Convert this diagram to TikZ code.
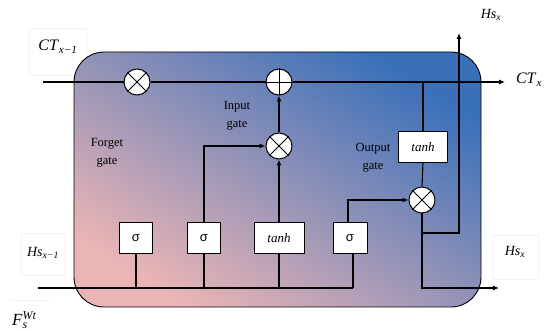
\documentclass[tikz,border=0pt]{standalone}
\usepackage{fontspec}
\setmainfont{Liberation Serif}
\newfontfamily\sigfont{Liberation Sans}
\usetikzlibrary{arrows.meta,calc}

\definecolor{cellpink}{HTML}{EBB5B5}
\definecolor{cellmid}{HTML}{A393B8}
\definecolor{cellblue}{HTML}{3A70BA}

\newcommand{\vname}[2]{\textit{#1}\textsubscript{\textit{#2}}}

\tikzset{
  wire/.style={line width=1.1pt, black},
  arr/.style={wire, -{Latex[length=6pt,width=5pt]}},
  opnode/.style={circle, draw, line width=1pt, fill=white, minimum size=26pt, inner sep=0pt},
  gatebox/.style={draw, line width=0.9pt, fill=white, minimum height=31pt, inner sep=0pt},
  gatelbl/.style={align=center, font=\fontsize{12.5}{18}\selectfont},
  lblbox/.style={draw=black!5, line width=0.4pt},
}

\begin{document}
\begin{tikzpicture}[x=1pt, y=-1pt]
\useasboundingbox (0,0) rectangle (550,331);

% faint frames behind the outer labels
\draw[lblbox] (29,28) rectangle (86,75);
\draw[lblbox] (21,233) rectangle (65,275);
\draw[lblbox] (492,235) rectangle (538,279);
\draw[lblbox] (10,300) -- (50,300);

% cell body with diagonal colour gradient
\shade[shading=axis, bottom color=cellpink, middle color=cellmid, top color=cellblue,
       shading angle=-32, rounded corners=30pt]
  (74,52) rectangle (481,307);
\draw[line width=0.9pt, rounded corners=30pt] (74,52) rectangle (481,307);

% operation nodes
\node[opnode] (fmul) at (137,82) {};
\node[opnode] (add)  at (279,82) {};
\node[opnode] (imul) at (279,146) {};
\node[opnode] (omul) at (422,200) {};

% gate boxes
\node[gatebox, minimum width=33pt] (sig1) at (136,238) {\sigfont\fontsize{13}{13}\selectfont σ};
\node[gatebox, minimum width=33pt] (sig2) at (204,238) {\sigfont\fontsize{13}{13}\selectfont σ};
\node[gatebox, minimum width=50pt] (tanhi) at (279,238) {\fontsize{13}{13}\selectfont\itshape tanh};
\node[gatebox, minimum width=34pt] (sig3) at (350,238) {\sigfont\fontsize{13}{13}\selectfont σ};
\node[gatebox, minimum width=49pt] (tanho) at (423,147) {\fontsize{13}{13}\selectfont\itshape tanh};

% free ends
\coordinate (ctin)  at (43,82);
\coordinate (ctout) at (505,82);
\coordinate (hin)   at (38,288);
\coordinate (hend)  at (353,288);
\coordinate (hsup)  at (459,33);
\coordinate (hsout) at (499,288);

% cell state line
\draw[wire] (ctin) -- (fmul.west);
\draw[wire] (fmul.east) -- (add.west);
\draw[arr] (add.east) -- (ctout);

% symbols inside the operation nodes
\foreach \n in {fmul,imul,omul}{
  \draw[line width=0.9pt] (\n.north east) -- (\n.south west);
  \draw[line width=0.9pt] (\n.north west) -- (\n.south east);
}
\draw[line width=0.9pt] (add.north) -- (add.south);
\draw[line width=0.9pt] (add.west) -- (add.east);

% input line feeding all gates
\draw[wire] (hin) -- (hend);
\draw[wire] (sig1.south) -- (sig1.south |- hin);
\draw[wire] (sig2.south) -- (sig2.south |- hin);
\draw[wire] (tanhi.south) -- (tanhi.south |- hin);
\draw[wire] ($(sig3.south)+(3,0)$) -- (hend);

% input gate
\draw[arr] (sig2.north) |- (imul.west);
\draw[arr] (tanhi.north) -- (imul.south);
\draw[arr] (imul.north) -- (add.south);

% output gate
\draw[wire] (tanho.north |- add) -- (tanho.north);
\draw[wire] (tanho.south) -- (omul.north);
\draw[arr] ($(sig3.north)+(-2,0)$) |- (omul.west);
\draw[arr] (omul.south) |- (hsout);
\draw[arr] (omul.south) -- (422,233) -| (hsup);

% labels
\node[gatelbl] (lforget) at (107,153) {Forget\\gate};
\node[gatelbl] (linput)  at (237,116) {Input\\gate};
\node[gatelbl] (loutput) at (373,158) {Output\\gate};

\node (lctin)  at (58,47)  {\fontsize{16}{16}\selectfont\vname{CT}{x−1}};
\node (lctout) at (529,80) {\fontsize{16}{16}\selectfont\vname{CT}{x}};
\node (lhsup)  at (491,15) {\fontsize{14}{14}\selectfont\vname{Hs}{x}};
\node (lhsout) at (515,252) {\fontsize{14}{14}\selectfont\vname{Hs}{x}};
\node (lhin)   at (43,253) {\fontsize{14}{14}\selectfont\vname{Hs}{x−1}};
\node (lf)     at (27,320) {\fontsize{17}{17}\selectfont\textit{F}\rlap{\textsuperscript{\textit{Wt}}}\textsubscript{\textit{s}}\hphantom{\textsuperscript{\textit{Wt}}}};
\end{tikzpicture}
\end{document}
